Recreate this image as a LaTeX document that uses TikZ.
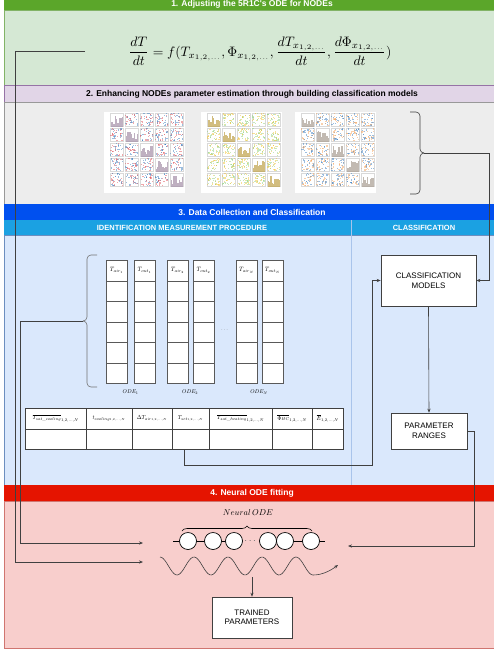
\documentclass[tikz,border=0pt]{standalone}
\usepackage{amsmath}
\usepackage{fontspec}
\newfontfamily\hv{Liberation Sans}
\usetikzlibrary{arrows.meta,decorations.pathreplacing,calc}
\definecolor{gHead}{HTML}{5BA62A}
\definecolor{gBody}{HTML}{D5E8D4}
\definecolor{gLine}{HTML}{82B366}
\definecolor{pHead}{HTML}{E1D5E7}
\definecolor{pLine}{HTML}{9673A6}
\definecolor{grBody}{HTML}{EDEDED}
\definecolor{bHead}{HTML}{0050EF}
\definecolor{bSub}{HTML}{1BA1E2}
\definecolor{bBody}{HTML}{DAE8FC}
\definecolor{bLine}{HTML}{6C8EBF}
\definecolor{bDiv}{HTML}{A9C4EB}
\definecolor{rHead}{HTML}{E51400}
\definecolor{rBody}{HTML}{F8CECC}
\definecolor{rLine}{HTML}{D07570}
\definecolor{ppRed}{HTML}{E0525A}
\definecolor{ppBlue}{HTML}{3A7DBF}
\definecolor{ppPurp}{HTML}{A48FA8}
\definecolor{ppYel}{HTML}{F2C230}
\definecolor{ppGrn}{HTML}{8FD07A}
\definecolor{ppOli}{HTML}{BFA24A}
\definecolor{ppOra}{HTML}{F5A25A}
\definecolor{ppGry}{HTML}{A99E92}
\newcommand{\pairplot}[5]{%
\begin{scope}[shift={(#1,#2)}]
\fill[white] (0,0) rectangle (81,81);
\foreach \i in {0,...,4}{
 \foreach \j in {0,...,4}{
  \pgfmathsetmacro{\cx}{6+\i*15}
  \pgfmathsetmacro{\cy}{1+\j*15}
  \draw[black!15, line width=0.2pt] (\cx,\cy) rectangle ++(13.5,13.5);
  \ifnum\i=\j
    \foreach \b in {0,...,8}{
      \pgfmathsetmacro{\hh}{2+rnd*9}
      \fill[#5, opacity=.7] ({\cx+0.7+\b*1.35},{\cy+13.5}) rectangle ++(1.35,-\hh);
    }
  \else
    \foreach \k in {1,...,18}{
      \fill[#3, opacity=.5] ({\cx+rnd*12.3},{\cy+rnd*12.3}) rectangle ++(1.2,1.2);
      \fill[#4, opacity=.5] ({\cx+rnd*12.3},{\cy+rnd*12.3}) rectangle ++(1.2,1.2);
    }
  \fi
 }}
\end{scope}}
\begin{document}
\begin{tikzpicture}[x=1pt,y=-1pt,
  hdr/.style={font=\hv\bfseries\fontsize{8.5}{10}\selectfont, text=white},
  subhdr/.style={font=\hv\bfseries\fontsize{7.5}{9}\selectfont, text=white},
  box/.style={draw=black!75, fill=white, font=\hv\fontsize{8}{9.5}\selectfont, align=center, line width=0.6pt, inner sep=0pt},
  conn/.style={draw=black!75, line width=0.6pt},
  arr/.style={conn, -{Stealth[length=4pt,width=3.2pt]}},
  cellt/.style={inner sep=0pt, scale=0.58},
  colt/.style={inner sep=0pt, scale=0.62},
  odel/.style={inner sep=0pt, scale=0.55},
  neur/.style={draw=black, fill=white, circle, minimum size=17pt, inner sep=0pt, line width=0.7pt}]
\useasboundingbox (0,0) rectangle (494,657);
\pgfmathsetseed{42}
% ---------- Section 1
\fill[gHead] (4,-6) rectangle (500,10.5);
\filldraw[fill=gBody, draw=gLine, line width=0.6pt] (4,10.5) rectangle (500,85);
\node[hdr] (h1) at (252,4) {1. Adjusting the 5R1C's ODE for NODEs};
\node[scale=1.37] (eq) at (260,51) {$\displaystyle \frac{dT}{dt} = f(T_{x_{1,2,\ldots}}, \Phi_{x_{1,2,\ldots}}, \frac{dT_{x_{1,2,\ldots}}}{dt}, \frac{d\Phi_{x_{1,2,\ldots}}}{dt})$};
\coordinate (eqL) at (85,51);
% ---------- Section 2
\filldraw[fill=pHead, draw=pLine, line width=0.6pt] (4,85) rectangle (500,102);
\filldraw[fill=grBody, draw=black!40, line width=0.6pt] (4,102) rectangle (500,204);
\node[hdr, text=black] (h2) at (252,94) {2. Enhancing NODEs parameter estimation through building classification models};
\pairplot{104}{112}{ppRed}{ppBlue}{ppPurp}
\pairplot{201}{112}{ppYel}{ppGrn}{ppOli}
\pairplot{295}{112}{ppOra}{ppBlue}{ppGry}
\draw[conn, rounded corners=4pt] (410,112) -- (420,112) -- (420,153) -- (424,153);
\draw[conn, rounded corners=4pt] (424,153) -- (420,153) -- (420,194) -- (410,194);
\coordinate (b2tip) at (424,153);
% ---------- Section 3
\fill[bHead] (4,204) rectangle (500,220);
\fill[bSub] (4,220) rectangle (500,235);
\filldraw[fill=bBody, draw=bLine, line width=0.6pt] (4,235) rectangle (500,485);
\draw[bDiv, line width=1pt] (351,220) -- (351,485);
\node[hdr] (h3) at (252,212) {3. Data Collection and Classification};
\node[subhdr] (h3a) at (182,227.5) {IDENTIFICATION MEASUREMENT PROCEDURE};
\node[subhdr] (h3b) at (424,227.5) {CLASSIFICATION};
% ODE columns
\foreach \x/\lab/\nm in {106/{T_{air_1}}/c1,134/{T_{out_1}}/c2,167/{T_{air_2}}/c3,193/{T_{out_2}}/c4,236/{T_{air_N}}/c5,262/{T_{out_N}}/c6} {
  \filldraw[fill=white, draw=black!65, line width=0.6pt] (\x,260) rectangle ++(21,123);
  \foreach \r in {281,301.5,322,342.5,363} \draw[black!65, line width=0.6pt] (\x,\r) -- ++(21,0);
  \node[colt] (\nm) at (\x+10.5,270.5) {$\lab$};
}
\node[inner sep=0pt, scale=0.6, text=black!60] (odots) at (225,330) {$\cdots$};
\node[odel] (o1) at (130.5,392) {$ODE_1$};
\node[odel] (o2) at (190,392) {$ODE_2$};
\node[odel] (o3) at (259,392) {$ODE_N$};
\draw[conn, draw=black!55, rounded corners=4pt] (97,255) -- (87,255) -- (87,321) -- (83,321);
\draw[conn, draw=black!55, rounded corners=4pt] (83,321) -- (87,321) -- (87,387) -- (97,387);
\coordinate (odeTip) at (83,321);
% table
\node[draw=black!75, fill=white, line width=0.6pt, minimum width=318pt, minimum height=41pt, inner sep=0pt] (tbl) at (184,428.5) {};
\draw[black!75, line width=0.6pt] (25,429) -- (343,429);
\foreach \x in {86,132,172,209,272,312} \draw[black!75, line width=0.6pt] (\x,408) -- (\x,449);
\node[cellt] (t1) at (55.5,418.5) {$\overline{T_{sat\_cooling}}_{1,2,\ldots,N}$};
\node[cellt] (t2) at (109,418.5) {$t_{cooling_{1,2,\ldots,N}}$};
\node[cellt] (t3) at (152,418.5) {$\Delta T_{air_{1,2,\ldots,N}}$};
\node[cellt] (t4) at (190.5,418.5) {$T_{set_{1,2,\ldots,N}}$};
\node[cellt] (t5) at (240.5,418.5) {$\overline{T_{sat\_heating}}_{1,2,\ldots,N}$};
\node[cellt] (t6) at (292,418.5) {$\overline{\Phi_{HC}}_{1,2,\ldots,N}$};
\node[cellt] (t7) at (327.5,418.5) {$\overline{E}_{1,2,\ldots,N}$};
% classification
\node[box, minimum width=95pt, minimum height=51pt] (CM) at (428.5,280.5) {CLASSIFICATION\\MODELS};
\node[box, minimum width=76pt, minimum height=36pt] (PR) at (429,431) {PARAMETER\\RANGES};
% ---------- Section 4
\fill[rHead] (4,485) rectangle (500,501);
\filldraw[fill=rBody, draw=rLine, line width=0.6pt] (4,501) rectangle (500,648);
\node[hdr] (h4) at (252,493) {4. Neural ODE fitting};
\node[scale=0.85, inner sep=0pt] (nlab) at (248,513) {$Neural\,ODE$};
\draw[conn, draw=black, decorate, decoration={brace, amplitude=5pt}] (182,531) -- (312,531);
\foreach \cx/\nm in {188/n1,213/n2,234/n3,268/n4,285/n5,311/n6} \node[neur] (\nm) at (\cx,541) {};
\draw[black, line width=0.7pt] (173,541) -- (n1.west) (n1) -- (n2) (n2) -- (n3) (n4) -- (n5) (n5) -- (n6) (n6.east) -- (325,541);
\node[text=black!60, inner sep=0pt] (ndots) at (251,541) {$\cdots$};
\draw[arr] plot[domain=160:313, samples=90, smooth] (\x,{566+9*cos(10.5882*(\x-177))}) .. controls (322,575) and (330,571) .. (338,565);
\coordinate (waveBot) at (252,577);
\node[box, minimum width=80pt, minimum height=41pt] (TP) at (252,617.5) {TRAINED\\PARAMETERS};
\coordinate (tgtA) at (143,562);
\coordinate (tgtB) at (143,543);
\coordinate (tgtR) at (348,546);
% ---------- connectors
\draw[arr] (eqL) -- (15,51) |- (tgtA);
\draw[arr] (odeTip) -- (20,321) |- (tgtB);
\draw[arr] (tbl.south) |- (372,465) |- (CM.west);
\draw[arr] (b2tip) -- (489,153) |- (CM.east);
\draw[arr] (CM.south) -- (PR.north);
\draw[arr] (PR.east) -- (474,431) |- (tgtR);
\draw[arr] (waveBot) -- (TP.north);
\end{tikzpicture}
\end{document}
